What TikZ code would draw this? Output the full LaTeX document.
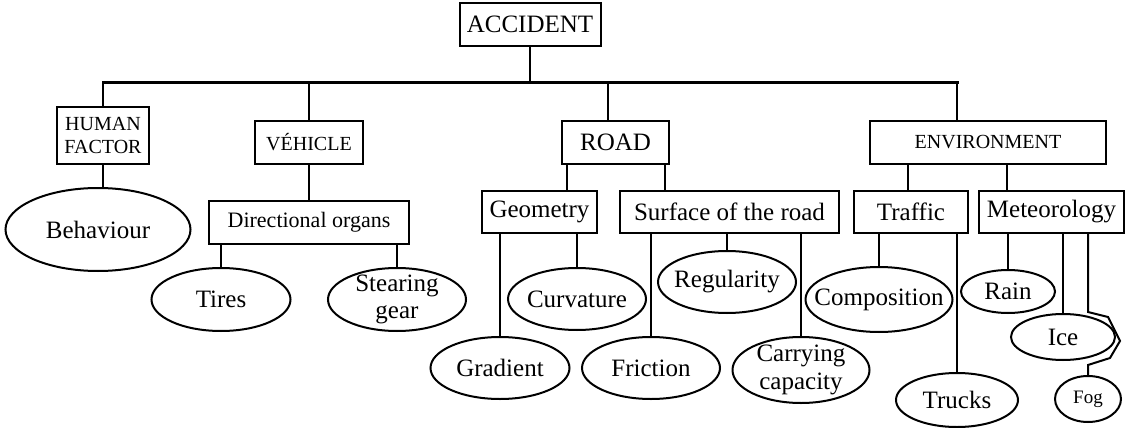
\documentclass[tikz,border=0pt]{standalone}
\usepackage{fontspec}
\setmainfont{Liberation Serif}
\usetikzlibrary{shapes.geometric}
\tikzset{
	catbox/.style={draw,line width=2pt,minimum height=43,inner sep=2pt,font=\fontsize{25}{28}\selectfont},
	oval/.style={draw,ellipse,line width=2pt,inner sep=0pt},
	every label/.style={font=\fontsize{25}{27.5}\selectfont,align=center},
	link/.style={line width=2pt},
	bus/.style={line width=3pt,line cap=rect}
}
\begin{document}
\begin{tikzpicture}[x=1pt,y=-1pt]
		\useasboundingbox (0,0) rectangle (1125,428);
		\node[catbox,minimum width=141] (acc) at (530,24.5) {ACCIDENT};
		\node[catbox,minimum width=92,minimum height=57,align=center,font=\fontsize{20}{23}\selectfont] (hf) at (103,135.5) {HUMAN\\FACTOR};
		\node[catbox,minimum width=108,font=\fontsize{20}{23}\selectfont] (veh) at (309,142.5) {VÉHICLE};
		\node[catbox,minimum width=107] (road) at (615.5,142.5) {ROAD};
		\node[catbox,minimum width=236,font=\fontsize{20}{23}\selectfont] (env) at (988,142.5) {ENVIRONMENT};
		\node[catbox,minimum width=200,font=\fontsize{22}{25}\selectfont] (dir) at (309,222.5) {Directional organs};
		\node[catbox,minimum width=115,minimum height=42] (geo) at (539.5,212) {Geometry};
		\node[catbox,minimum width=219,minimum height=42] (surf) at (729.5,212) {Surface of the road};
		\node[catbox,minimum width=114,minimum height=42] (traf) at (911,212) {Traffic};
		\node[catbox,minimum width=145,minimum height=42] (met) at (1051.5,212) {Meteorology};
		\node[oval,minimum width=185,minimum height=83,label=center:Behaviour] (beh) at (98,229.5) {};
		\node[oval,minimum width=139,minimum height=63,label=center:Tires] (tires) at (221,299.5) {};
		\node[oval,minimum width=138,minimum height=63,label={center:Stearing\\gear}] (stear) at (397,299.5) {};
		\node[oval,minimum width=139,minimum height=62,label=center:Gradient] (grad) at (500,368) {};
		\node[oval,minimum width=138,minimum height=62,label=center:Curvature] (curv) at (577,299) {};
		\node[oval,minimum width=138,minimum height=62,label=center:Regularity] (regu) at (727,282) {};
		\node[oval,minimum width=138,minimum height=62,label=center:Friction] (fric) at (651,368) {};
		\node[oval,minimum width=137,minimum height=66,label={center:Carrying\\capacity}] (carry) at (801,370) {};
		\node[oval,minimum width=147,minimum height=65,label=center:Composition] (comp) at (879,299.5) {};
		\node[oval,minimum width=122,minimum height=54,label=center:Trucks] (truck) at (957,400) {};
		\node[oval,minimum width=94,minimum height=43,label=center:Rain] (rain) at (1008,291.5) {};
		\node[oval,minimum width=104,minimum height=46,label=center:Ice] (ice) at (1063,337) {};
		\node[oval,minimum width=66,minimum height=46,label={[font=\fontsize{19}{22}\selectfont]center:Fog}] (fog) at (1088,399) {};
		\coordinate (busL) at (103,83);
		\coordinate (busR) at (957,83);
		\draw[bus] (busL) -- (busR);
		\draw[link] (acc.south) -- (acc.south |- busL);
		\draw[link] (busL) -- (hf.north);
		\draw[link] (veh.north |- busL) -- (veh.north);
		\draw[link] (busL -| 608,0) -- (road.north -| 608,0);
		\draw[link] (busR) -- (env.north -| busR);
		\draw[link] (hf.south) -- (hf.south |- beh.north);
		\draw[link] (veh.south) -- (dir.north);
		\draw[link] (road.south -| 567,0) -- (geo.north -| 567,0);
		\draw[link] (road.south -| 665,0) -- (surf.north -| 665,0);
		\draw[link] (env.south -| 908,0) -- (traf.north -| 908,0);
		\draw[link] (env.south -| 1007,0) -- (met.north -| 1007,0);
		\foreach \p/\c in {dir/tires,dir/stear,geo/grad,geo/curv,surf/fric,surf/regu,surf/carry,traf/comp,traf/truck,met/rain,met/ice}
			\draw[link] (\p.south -| \c.north) -- (\c.north);
		\draw[link] (met.south -| fog.north) -- ++(0,78) -- ++(20,5) -- ++(12,24) -- ++(-10,17) -- ++(-22,7) -- (fog.north);
	\end{tikzpicture}
\end{document}
